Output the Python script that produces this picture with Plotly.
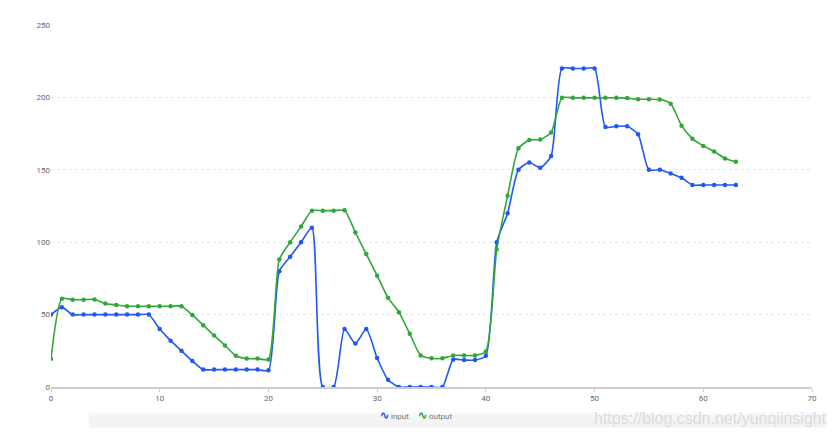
import plotly.graph_objects as go

x_vals = list(range(64))

input_vals = [50, 55, 50, 50, 50, 50, 50, 50, 50, 50,
              40, 32, 25, 18, 12, 12, 12, 12, 12, 12,
              11.5, 80, 90, 100, 110, 0, 0, 40, 30, 40,
              20, 5, 0, 0, 0, 0, 0, 19, 18.6, 18.6,
              21.5, 100, 120, 150, 155, 151.5, 159.5, 220, 220, 220,
              220, 179.5, 180, 180, 174.5, 150, 150, 147.5, 144.5, 139.5,
              139.5, 139.5, 139.5, 139.5]

output_vals = [19.5, 61, 60.3, 60.3, 60.5, 57.6, 56.7, 55.8, 55.8, 55.8,
               55.8, 55.8, 55.8, 49.8, 42.7, 35.6, 28.7, 21.6, 19.6, 19.6,
               19, 88, 100, 110.8, 121.8, 121.8, 121.8, 122, 106.7, 91.8,
               76.9, 61.7, 51.7, 36.8, 21.8, 19.8, 19.8, 21.8, 21.8, 21.8,
               24.5, 95, 132, 164.8, 170.5, 171, 175.7, 199.7, 199.7, 199.7,
               199.7, 199.7, 199.7, 199.5, 198.7, 198.7, 198.5, 195.7, 180.5, 171.5,
               166.5, 162.7, 157.8, 155.5]

y_ticks = [0, 50, 100, 150, 200, 250]
x_ticks = [0, 10, 20, 30, 40, 50, 60, 70]
series_names = ["input", "output"]
watermark = "https://blog.csdn.net/yunqiinsight"

blue = "#1f58f2"
green = "#30a838"

fig = go.Figure()
fig.add_trace(go.Scatter(
    x=x_vals, y=input_vals, name=series_names[0], mode="lines+markers",
    line=dict(color=blue, width=1.6, shape="spline", smoothing=0.6),
    marker=dict(color=blue, size=4.5), showlegend=False,
))
fig.add_trace(go.Scatter(
    x=x_vals, y=output_vals, name=series_names[1], mode="lines+markers",
    line=dict(color=green, width=1.6, shape="spline", smoothing=0.6),
    marker=dict(color=green, size=4.5), showlegend=False,
))

# faint shading at the bottom edge (screenshot artefact)
for i, op in enumerate([0.012, 0.015, 0.02, 0.025, 0.03]):
    fig.add_shape(type="rect", xref="paper", yref="paper",
                  x0=0.05, x1=1.05, y0=-0.112, y1=-0.085 + 0.004 * i,
                  fillcolor="#888888", opacity=op, line=dict(width=0), layer="below")

# legend drawn as text with wave icons, like the original
legend_items = [(series_names[0], blue, 0.43), (series_names[1], green, 0.479)]
for name, col, xp in legend_items:
    fig.add_annotation(xref="paper", yref="paper", x=xp, y=-0.08, xanchor="left",
                       yanchor="middle", showarrow=False,
                       text=f"<span style='color:{col};font-size:11px'><b>∿</b></span> {name}",
                       font=dict(size=8, color="#777777"))

fig.add_annotation(xref="paper", yref="paper", x=0.866, y=-0.088, xanchor="center",
                   yanchor="middle", showarrow=False, text=watermark,
                   font=dict(family="Liberation Sans, Arial, sans-serif", size=16,
                             color="#dddddd"))

fig.update_layout(
    width=827, height=429,
    margin=dict(l=43, r=23, t=17, b=50),
    paper_bgcolor="white", plot_bgcolor="white",
    font=dict(family="Roboto, Arial, sans-serif", size=8, color="#666666"),
    showlegend=False,
    xaxis=dict(range=[0, 70], tickvals=x_ticks, showgrid=False, zeroline=False,
               showline=True, linecolor="#cccccc", linewidth=1.5,
               ticks="outside", ticklen=3, tickcolor="#cccccc",
               tickfont=dict(size=8, color="#666666")),
    yaxis=dict(range=[0, 250], tickvals=y_ticks, showgrid=True,
               gridcolor="#e6e6e6", griddash="dot", gridwidth=1,
               zeroline=False, showline=False, ticks="", ticklen=4,
               tickfont=dict(size=8, color="#666666")),
)

fig.write_html("out.html")
